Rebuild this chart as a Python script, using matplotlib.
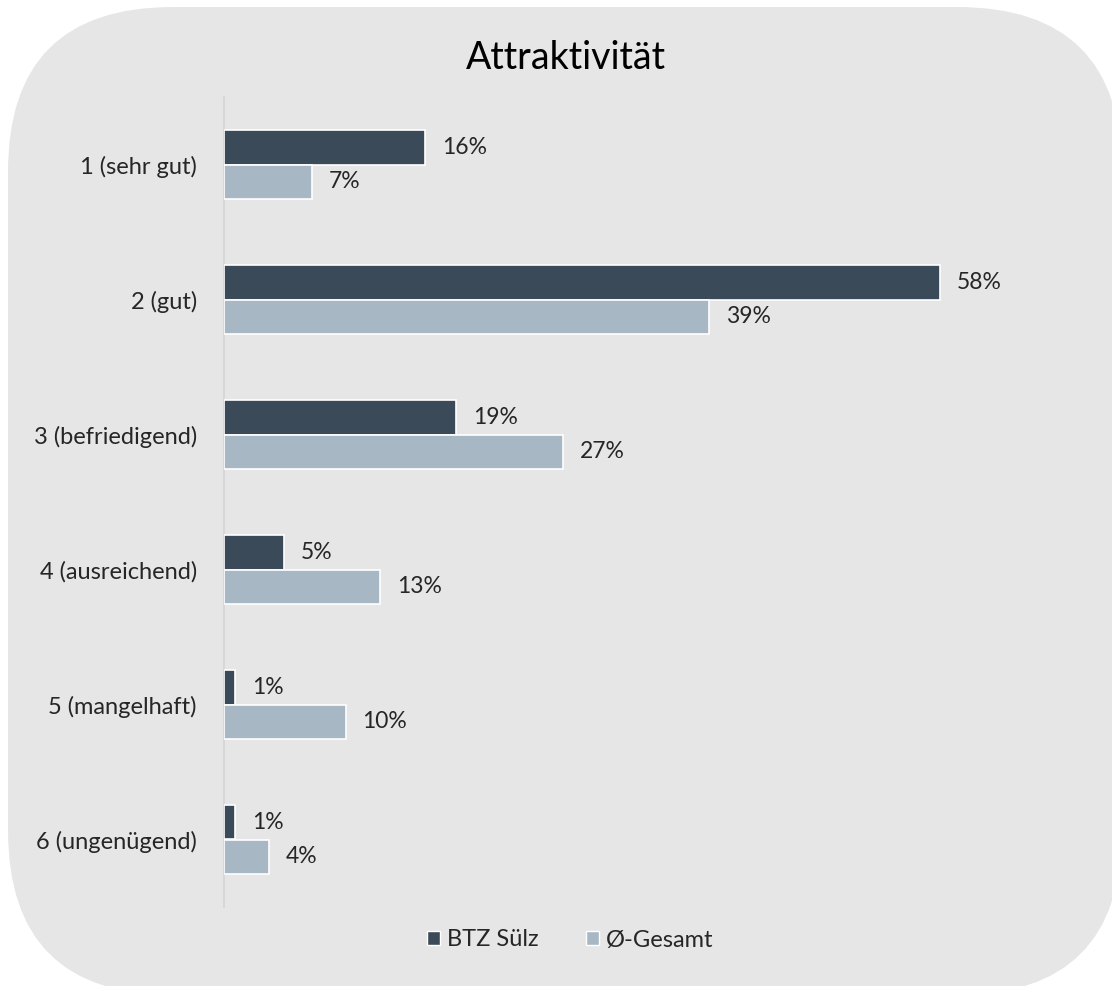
import matplotlib
matplotlib.use("Agg")
import matplotlib.pyplot as plt
from matplotlib.patches import FancyBboxPatch, Patch
import numpy as np

categories = ["1 (sehr gut)", "2 (gut)", "3 (befriedigend)", "4 (ausreichend)",
              "5 (mangelhaft)", "6 (ungenügend)"]
btz_suelz = [0.162, 0.577, 0.187, 0.048, 0.009, 0.009]
gesamt = [0.071, 0.391, 0.273, 0.126, 0.098, 0.036]
series_names = ["BTZ Sülz", "Ø-Gesamt"]
title = "Attraktivität"

DARK = "#3b4a58"
LIGHT = "#a8b7c4"
BG = "#e6e6e6"
TXT = "#262626"

plt.rcParams['font.family'] = ['Lato', 'DejaVu Sans']

W, H = 1112, 986
fig = plt.figure(figsize=(W / 100, H / 100), dpi=100)
fig.patch.set_facecolor("white")

# rounded background in pixel coordinates
bgax = fig.add_axes([0, 0, 1, 1], zorder=-5)
bgax.set_xlim(0, W)
bgax.set_ylim(H, 0)
bgax.axis("off")
bgax.add_patch(FancyBboxPatch((8, 7), 1122 - 8, 995 - 7,
                              boxstyle="round,pad=0,rounding_size=165",
                              facecolor=BG, edgecolor="none"))

ax = fig.add_axes([224 / W, 1 - 907 / H, (1090 - 224) / W, (907 - 97) / H], zorder=2)
ax.set_facecolor("none")

y = np.arange(len(categories))
h = 0.255
ax.barh(y - h / 2, btz_suelz, height=h, color=DARK, edgecolor="white", linewidth=1.2,
        label=series_names[0], zorder=3)
ax.barh(y + h / 2, gesamt, height=h, color=LIGHT, edgecolor="white", linewidth=1.2,
        label=series_names[1], zorder=3)

for yi, v in zip(y - h / 2, btz_suelz):
    ax.annotate(f"{v:.0%}", (v, yi), xytext=(17, 0), textcoords="offset pixels",
                va="center", ha="left", fontsize=16.5, color=TXT)
for yi, v in zip(y + h / 2, gesamt):
    ax.annotate(f"{v:.0%}", (v, yi), xytext=(17, 0), textcoords="offset pixels",
                va="center", ha="left", fontsize=16.5, color=TXT)

ax.set_xlim(0, 0.698)
ax.set_ylim(len(categories) - 0.5, -0.5)
ax.set_yticks(y)
ax.set_yticklabels(categories, fontsize=17, color=TXT)
ax.tick_params(axis="y", length=0, pad=19.5)
ax.set_xticks([])
for s in ["top", "right", "bottom"]:
    ax.spines[s].set_visible(False)
ax.spines["left"].set_color("#d4d4d4")
ax.spines["left"].set_linewidth(1.2)

fig.text(566 / W, 1 - 58 / H, title, ha="center", va="center", fontsize=27, color="black")

handles = [Patch(facecolor=DARK, edgecolor="white", linewidth=1),
           Patch(facecolor=LIGHT, edgecolor="white", linewidth=1)]
fig.legend(handles, series_names, loc="center", bbox_to_anchor=(570 / W, 1 - 940 / H),
           ncol=2, frameon=False, handlelength=0.55, handleheight=0.55,
           handletextpad=0.3, columnspacing=2.0, prop={'size': 17}, labelcolor=TXT)

fig.savefig("out.png", dpi=100, facecolor="white")
